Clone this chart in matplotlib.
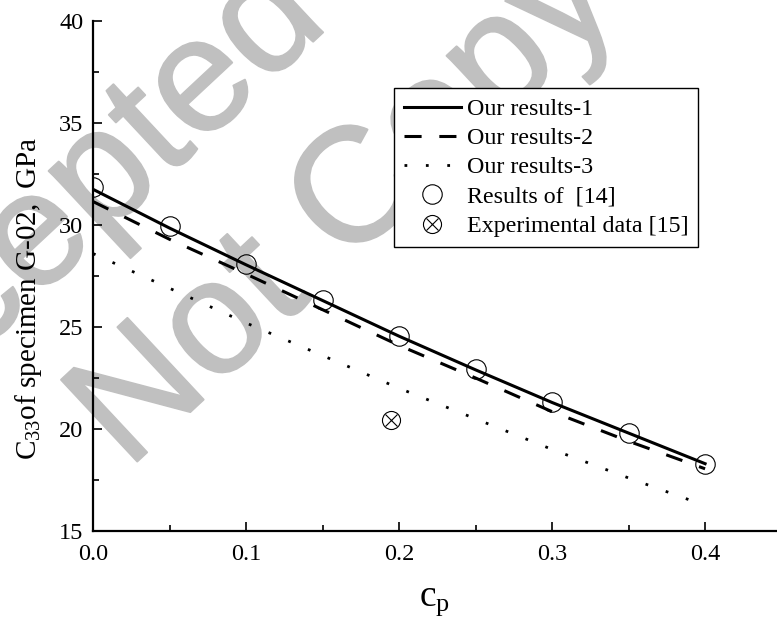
#!/usr/bin/env python3
"""
C33 of specimen G-02 versus c_p.
"""

import matplotlib
matplotlib.use('Agg')
import matplotlib.pyplot as plt
import matplotlib.patheffects as pe
from matplotlib.ticker import MultipleLocator

plt.rcParams['font.family'] = ['Liberation Serif', 'DejaVu Serif']
plt.rcParams['mathtext.fontset'] = 'custom'
plt.rcParams['mathtext.rm'] = 'Liberation Serif'
plt.rcParams['mathtext.it'] = 'Liberation Serif'

# Data
cp = [0.0, 0.05, 0.10, 0.15, 0.20, 0.25, 0.30, 0.35, 0.40]
ours_1 = [31.75, 29.85, 28.05, 26.30, 24.55, 22.90, 21.30, 19.80, 18.30]
ours_2 = [31.15, 29.30, 27.60, 25.85, 24.10, 22.50, 20.85, 19.40, 18.05]
ours_3 = [28.60, 26.90, 25.20, 23.60, 22.00, 20.50, 19.00, 17.60, 16.25]
ref_14 = [31.85, 29.95, 28.10, 26.32, 24.56, 22.94, 21.32, 19.80, 18.28]
exp_cp = [0.195]
exp_15 = [20.45]

fig = plt.figure(figsize=(7.77, 6.34), dpi=100)
ax = fig.add_axes([93 / 777, 1 - 531 / 634, 684 / 777, 510 / 634])
ax.set_zorder(1)
ax.patch.set_visible(False)

# Watermark behind the plot (baseline start points)
wm = dict(fontsize=117, color='#c0c0c0', family='Liberation Sans',
          rotation=43, rotation_mode='anchor', ha='left', va='baseline', zorder=0,
          path_effects=[pe.withStroke(linewidth=1.4, foreground='#c0c0c0')])
fig.text(-0.212, 0.2314, 'Accepted Manuscript', **wm)
fig.text(0.1641, 0.2577, 'Not Copyedited', **wm)

l1, = ax.plot(cp, ours_1, '-', color='black', lw=2.2, label='Our results-1')
l2, = ax.plot(cp, ours_2, color='black', lw=2.2, dashes=(5.6, 5.8), label='Our results-2')
l3, = ax.plot(cp, ours_3, color='black', lw=2.0, dashes=(1, 6.7),
              dash_capstyle='butt', label='Our results-3')
m1, = ax.plot(cp, ref_14, 'o', ms=14, mfc='none', mec='black', mew=0.8,
              label='Results of  [14]')
e1, = ax.plot(exp_cp, exp_15, 'o', ms=13, mfc='none', mec='black', mew=0.8)
e2, = ax.plot(exp_cp, exp_15, 'x', ms=9, color='black', mew=0.8)

ax.set_xlim(0, 0.447)
ax.set_ylim(15, 40)
ax.xaxis.set_major_locator(MultipleLocator(0.1))
ax.xaxis.set_minor_locator(MultipleLocator(0.05))
ax.yaxis.set_major_locator(MultipleLocator(5))
ax.yaxis.set_minor_locator(MultipleLocator(2.5))
ax.xaxis.set_major_formatter(plt.FormatStrFormatter('%.1f'))

for side in ['top', 'right']:
    ax.spines[side].set_visible(False)
for side in ['left', 'bottom']:
    ax.spines[side].set_linewidth(1.6)

ax.tick_params(which='both', direction='in', width=1.2, labelsize=17.5)
ax.tick_params(which='major', length=6.7)
ax.tick_params(which='minor', length=4)
ax.tick_params(axis='x', pad=9)
ax.tick_params(axis='y', pad=7)

ax.set_xlabel('c$_{\\mathrm{p}}$', fontsize=27, labelpad=14)
ax.set_ylabel('C$_{33}$of specimen G-02,  GPa', fontsize=21)
ax.yaxis.set_label_coords(-0.072, 0.455)

leg = ax.legend([l1, l2, l3, m1, (e1, e2)],
                ['Our results-1', 'Our results-2', 'Our results-3',
                 'Results of  [14]', 'Experimental data [15]'],
                loc='upper left', bbox_to_anchor=(0.44, 0.8686), borderaxespad=0,
                fontsize=17.3, handlelength=2.35, handletextpad=0.25,
                labelspacing=0.31, borderpad=0.42, fancybox=False,
                edgecolor='black', framealpha=1)
leg.get_frame().set_linewidth(1.0)

fig.savefig('out.png', dpi=100)
